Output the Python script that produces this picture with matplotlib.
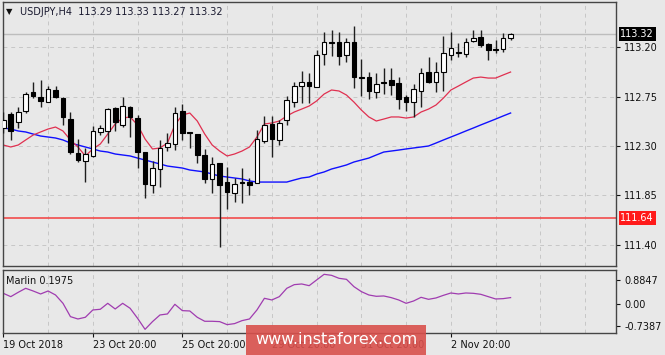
import matplotlib
matplotlib.use("Agg")
import matplotlib.pyplot as plt
from matplotlib.patches import Rectangle
import numpy as np

plt.rcParams['font.family'] = ['DejaVu Sans']

symbol = "USDJPY,H4"

opens = [112.465, 112.593, 112.520, 112.620, 112.794, 112.748, 112.702, 112.812, 112.739, 112.547,
         112.237, 112.164, 112.210, 112.429, 112.438, 112.648, 112.493, 112.657, 112.556, 112.246,
         111.945, 112.091, 112.292, 112.319, 112.620, 112.429, 112.410, 112.219, 112.000, 112.146,
         111.972, 111.872, 111.972, 111.972, 111.963, 112.346, 112.502, 112.356, 112.540, 112.702,
         112.848, 112.885, 112.839, 113.140, 113.250, 113.250, 113.131, 113.250, 112.930, 112.930,
         112.794, 112.885, 112.903, 112.876, 112.748, 112.702, 112.803, 112.976, 112.885, 112.976,
         113.131, 113.159, 113.140, 113.259, 113.295, 113.232, 113.186, 113.186, 113.29]
highs = [112.611, 112.611, 112.657, 112.794, 112.885, 112.903, 112.848, 112.848, 112.748, 112.611,
         112.365, 112.283, 112.483, 112.493, 112.648, 112.657, 112.748, 112.666, 112.584, 112.246,
         112.164, 112.356, 112.420, 112.657, 112.684, 112.429, 112.410, 112.274, 112.201, 112.146,
         112.109, 112.009, 112.100, 112.009, 112.447, 112.575, 112.575, 112.538, 112.757, 112.885,
         112.985, 112.967, 113.177, 113.341, 113.359, 113.341, 113.286, 113.396, 113.095, 112.976,
         112.967, 113.013, 113.013, 112.930, 112.766, 112.867, 113.013, 113.113, 113.067, 113.305,
         113.341, 113.241, 113.286, 113.359, 113.359, 113.241, 113.268, 113.332, 113.33]
lows = [112.420, 112.356, 112.465, 112.602, 112.739, 112.657, 112.702, 112.739, 112.493, 112.228,
        112.155, 111.972, 112.201, 112.401, 112.328, 112.438, 112.474, 112.383, 112.100, 111.826,
        111.872, 111.927, 112.255, 112.264, 112.356, 112.283, 112.146, 111.963, 111.872, 111.380,
        111.726, 111.790, 111.781, 111.854, 111.963, 112.328, 112.201, 112.310, 112.493, 112.657,
        112.693, 112.693, 112.839, 113.040, 113.122, 113.040, 113.067, 112.830, 112.757, 112.730,
        112.739, 112.775, 112.766, 112.638, 112.620, 112.566, 112.657, 112.876, 112.794, 112.803,
        113.086, 113.113, 113.113, 113.250, 113.204, 113.086, 113.149, 113.159, 113.27]
closes = [112.538, 112.438, 112.611, 112.775, 112.757, 112.712, 112.821, 112.748, 112.566, 112.246,
          112.173, 112.228, 112.438, 112.465, 112.638, 112.520, 112.666, 112.566, 112.246, 111.954,
          112.100, 112.283, 112.328, 112.602, 112.420, 112.420, 112.219, 112.000, 112.137, 111.945,
          111.881, 111.954, 111.963, 111.945, 112.365, 112.493, 112.365, 112.511, 112.720, 112.848,
          112.885, 112.848, 113.131, 113.250, 113.241, 113.122, 113.250, 112.930, 112.921, 112.803,
          112.867, 112.876, 112.857, 112.730, 112.702, 112.821, 112.967, 112.885, 112.976, 113.149,
          113.195, 113.149, 113.250, 113.286, 113.222, 113.177, 113.177, 113.286, 113.32]

red_ma = [112.310, 112.292, 112.310, 112.356, 112.401, 112.429, 112.456, 112.474, 112.438, 112.356,
          112.292, 112.210, 112.274, 112.319, 112.410, 112.502, 112.556, 112.566, 112.493, 112.365,
          112.274, 112.283, 112.328, 112.493, 112.584, 112.602, 112.529, 112.410, 112.310, 112.255,
          112.210, 112.228, 112.255, 112.292, 112.383, 112.502, 112.511, 112.529, 112.575, 112.611,
          112.638, 112.666, 112.712, 112.775, 112.812, 112.803, 112.766, 112.702, 112.629, 112.566,
          112.529, 112.547, 112.566, 112.566, 112.556, 112.566, 112.611, 112.638, 112.675, 112.739,
          112.812, 112.848, 112.885, 112.921, 112.930, 112.921, 112.921, 112.949, 112.976]
blue_ma = [112.465, 112.456, 112.438, 112.429, 112.410, 112.392, 112.383, 112.374, 112.356, 112.328,
           112.310, 112.292, 112.274, 112.255, 112.246, 112.228, 112.219, 112.210, 112.191, 112.173,
           112.155, 112.137, 112.118, 112.109, 112.100, 112.082, 112.073, 112.064, 112.045, 112.027,
           112.018, 112.009, 112.000, 111.982, 111.972, 111.972, 111.972, 111.972, 111.972, 111.991,
           112.009, 112.018, 112.045, 112.064, 112.091, 112.109, 112.128, 112.155, 112.173, 112.191,
           112.219, 112.246, 112.255, 112.264, 112.274, 112.283, 112.292, 112.301, 112.328, 112.356,
           112.383, 112.410, 112.438, 112.465, 112.493, 112.520, 112.547, 112.575, 112.602]
marlin = [0.324, 0.226, 0.354, 0.472, 0.393, 0.305, 0.393, 0.275, 0.029, -0.364,
          -0.433, -0.383, -0.167, -0.147, 0.029, -0.138, 0.029, -0.118, -0.413, -0.7387,
          -0.511, -0.315, -0.285, 0.000, -0.187, -0.197, -0.383, -0.501, -0.501, -0.511,
          -0.600, -0.570, -0.482, -0.433, -0.167, 0.177, 0.128, 0.226, 0.472, 0.580,
          0.600, 0.550, 0.718, 0.8847, 0.855, 0.767, 0.737, 0.521, 0.374, 0.275,
          0.236, 0.246, 0.197, 0.128, 0.029, 0.098, 0.206, 0.147, 0.187, 0.265,
          0.334, 0.305, 0.334, 0.324, 0.295, 0.226, 0.157, 0.167, 0.1975]

level_line = 111.64
price_ticks = [111.40, 111.85, 112.30, 112.75, 113.20]
xtick_idx = [0, 12, 24, 36, 48, 60]
xtick_labels = ["19 Oct 2018", "23 Oct 20:00", "25 Oct 20:00", "29 Oct 20:00",
                "31 Oct 20:00", "2 Nov 20:00"]

W, H = 665, 355
fig = plt.figure(figsize=(6.65, 3.55), dpi=100)
bg = '#e8e8e8'
fig.patch.set_facecolor(bg)

def fx(px):
    return px / W

def fy(py):
    return 1 - py / H

ax = fig.add_axes([fx(2.5), fy(266), fx(616) - fx(2.5), fy(2) - fy(266)])
axi = fig.add_axes([fx(2.5), fy(333), fx(616) - fx(2.5), fy(269.5) - fy(333)])

o = np.array(opens); h = np.array(highs); l = np.array(lows); c = np.array(closes)
x = np.arange(len(o))
xl = (-0.107, 82.13)
grid_kw = dict(color='#c6c6c6', lw=0.7, dashes=(4, 4), zorder=0)

for a in (ax, axi):
    a.set_facecolor(bg)
    a.set_xlim(*xl)
    for s in a.spines.values():
        s.set_color('#454545')
        s.set_linewidth(1.0)
    for gx in np.arange(0, 84, 6):
        a.axvline(gx, **grid_kw)

# main panel
ax.set_ylim(111.206, 113.615)
for p in price_ticks:
    ax.axhline(p, **grid_kw)
ax.axhline(c[-1], color='#bdbdbd', lw=1.0, zorder=1)
ax.axhline(level_line, color='#f24b4b', lw=1.2, zorder=2)
ax.plot(x, blue_ma, color='#1010ff', lw=1.0, zorder=2)
ax.plot(x, red_ma, color='#e03050', lw=0.9, zorder=2)

up = c >= o
ax.vlines(x, l, h, color='#1e1e1e', lw=1.0, zorder=3)
ax.bar(x, np.maximum(np.abs(c - o), 0.004), bottom=np.minimum(o, c), width=0.62,
       color=np.where(up, 'white', 'black'), edgecolor='black', lw=0.8, zorder=4)

ax.yaxis.tick_right()
ax.set_yticks(price_ticks)
ax.set_yticklabels([f"{p:.2f}" for p in price_ticks])
ax.tick_params(axis='y', length=3, width=0.8, pad=3, labelsize=7, colors='#111111')
ax.set_xticks([])

ax.annotate(f"{c[-1]:.2f}", xy=(1, c[-1]), xycoords=('axes fraction', 'data'),
            xytext=(3.2, 0), textcoords='offset points', ha='left', va='center',
            color='white', fontsize=7, annotation_clip=False,
            bbox=dict(boxstyle='square,pad=0.2', fc='black', ec='none'))
ax.annotate(f"{level_line:.2f}", xy=(1, level_line), xycoords=('axes fraction', 'data'),
            xytext=(3.2, 0), textcoords='offset points', ha='left', va='center',
            color='white', fontsize=7, annotation_clip=False,
            bbox=dict(boxstyle='square,pad=0.2', fc='#ff1a1a', ec='none'))

# indicator panel
axi.set_ylim(-0.847, 1.027)
axi.plot(x, marlin, color='#a03cb0', lw=0.9, zorder=2)
axi.yaxis.tick_right()
axi.set_yticks([0.717, 0.0, -0.641])
axi.set_yticklabels([f"{max(marlin):.4f}", "0.00", f"{min(marlin):.4f}"])
axi.tick_params(axis='y', length=3, width=0.8, pad=3, labelsize=7, colors='#111111')
axi.set_xticks(xtick_idx)
axi.set_xticklabels(xtick_labels)
axi.tick_params(axis='x', length=3, width=0.8, pad=2, labelsize=7, colors='#111111')
for t in axi.get_xticklabels():
    t.set_horizontalalignment('left')

fig.text(fx(6), fy(280.5), f"Marlin {marlin[-1]:.4f}", fontsize=7, va='center', ha='left',
         color='#111111')

fig.text(fx(6), fy(12), "\u25BC", fontsize=6, va='center', ha='left', color='#111111')
fig.text(fx(20), fy(12), f"{symbol}  {o[-1]:.2f} {h[-1]:.2f} {l[-1]:.2f} {c[-1]:.2f}",
         fontsize=7, va='center', ha='left', color='#1a1a30')

# watermark
fig.patches.append(Rectangle((fx(246), 0), fx(180), 30 / H, transform=fig.transFigure,
                             fc='#d9504c', alpha=0.9, ec='none', zorder=10))
fig.text(fx(336), fy(340), "www.instaforex.com", fontsize=11.5, color='white',
         ha='center', va='center', zorder=11)

fig.savefig("out.png", dpi=100, facecolor=bg)
